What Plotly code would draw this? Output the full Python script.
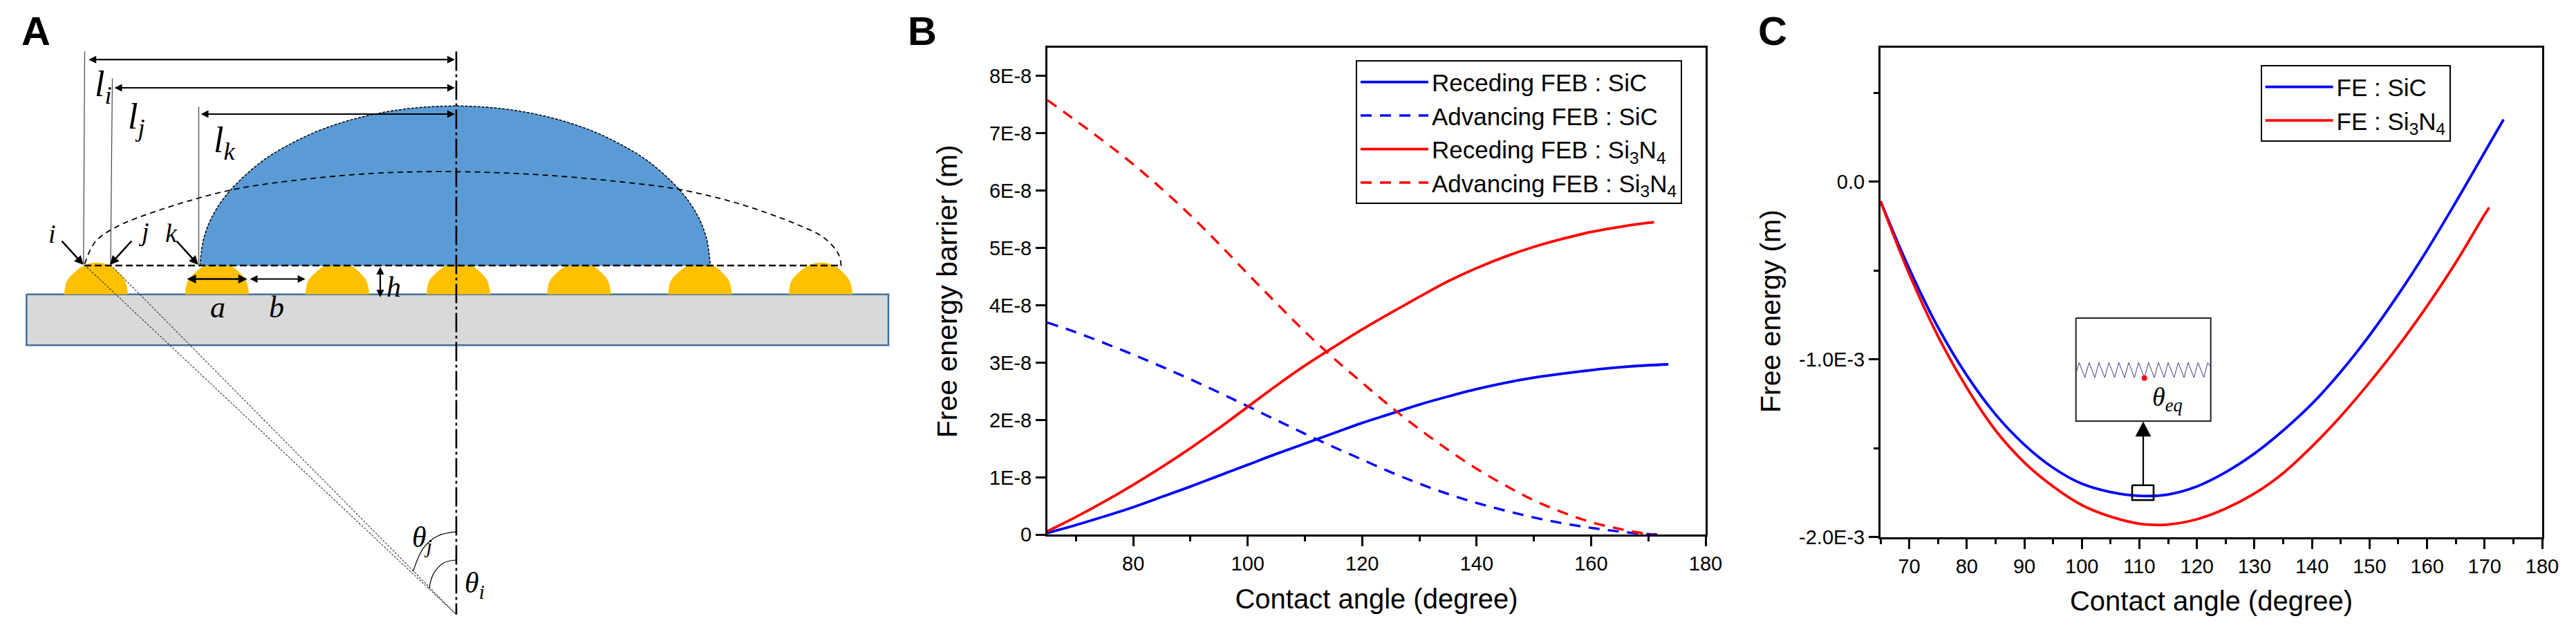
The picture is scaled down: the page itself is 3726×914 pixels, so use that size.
import plotly.graph_objects as go

W, H = 3726, 914
# ---------- Panel B data (free energy barrier, unit 1E-8 m)
b_rs_x = [65,70,75,80,85,90,95,100,105,110,115,120,125,130,135,140,145,150,155,160,165,170,173.5]
b_rs_y = [.03,.17,.32,.48,.66,.84,1.03,1.22,1.41,1.59,1.77,1.95,2.11,2.27,2.41,2.54,2.65,2.74,2.81,2.87,2.92,2.955,2.97]
b_as_x = [65,70,75,80,85,90,95,100,105,110,115,120,125,130,135,140,145,150,155,160,165,170,173]
b_as_y = [3.70,3.53,3.34,3.14,2.93,2.71,2.48,2.24,2.00,1.76,1.53,1.31,1.09,.89,.71,.555,.42,.30,.20,.12,.055,.01,0]
b_rn_x = [65,70,75,80,85,90,95,100,105,110,115,120,125,130,135,140,145,150,155,160,165,170,171]
b_rn_y = [.06,.31,.58,.87,1.18,1.51,1.86,2.23,2.60,2.95,3.27,3.58,3.87,4.15,4.42,4.65,4.85,5.02,5.16,5.28,5.37,5.44,5.45]
b_an_x = [65,70,75,80,85,90,95,100,105,110,115,120,125,130,135,140,145,150,155,160,165,170,171]
b_an_y = [7.58,7.22,6.85,6.46,6.03,5.57,5.07,4.55,4.04,3.54,3.08,2.65,2.23,1.84,1.48,1.15,.86,.60,.39,.22,.10,.01,0]
b_xticks = [80,100,120,140,160,180]
b_xminor = [70,90,110,130,150,170]
b_yticks = [0,1,2,3,4,5,6,7,8]
b_ylabels = ["0","1E-8","2E-8","3E-8","4E-8","5E-8","6E-8","7E-8","8E-8"]

# ---------- Panel C data (free energy, unit 1E-3 m)
c_s_x = [65,70,75,80,85,90,95,100,105,110,115,120,125,130,135,140,145,150,155,160,165,170,173.3]
c_s_y = [-.11,-.49,-.82,-1.09,-1.31,-1.48,-1.61,-1.70,-1.747,-1.768,-1.76,-1.715,-1.635,-1.53,-1.40,-1.25,-1.07,-.865,-.635,-.385,-.115,.165,.35]
c_n_x = [65,70,75,80,85,90,95,100,105,110,113,115,120,125,130,135,140,145,150,155,160,165,170,170.8]
c_n_y = [-.11,-.52,-.87,-1.16,-1.40,-1.58,-1.715,-1.82,-1.885,-1.925,-1.932,-1.93,-1.90,-1.84,-1.755,-1.64,-1.49,-1.32,-1.13,-.925,-.70,-.455,-.185,-.145]
c_xticks = [70,80,90,100,110,120,130,140,150,160,170,180]
c_xminor = [65,75,85,95,105,115,125,135,145,155,165,175]
c_yticks = [-2,-1,0]
c_ylabels = ["-2.0E-3","-1.0E-3","0.0"]
c_yminor = [-1.5,-.5,.5]

# ---------- Schematic geometry (picture positions, panel A and inset of panel C)
bump_lefts = [93,268,442,617,791.5,966.5,1141]
bump_dx = [0,3.7,13.7,28.7,47,65,79,88,92]
bump_y = [425.7,406.7,395,384,380,384,395,406.7,425.7]
drop_x = [289.2,295,309.2,333.3,379.2,422.5,460,502.5,542.5,580,613.3,658.3,703.3,736.6,774,814,856.6,894,937.4,983.3,1007.4,1021.6,1027.4]
drop_y = [384.6,343.8,308.9,275.1,233.1,206.9,189.4,174.8,164.9,158.5,155,153.3,155,158.5,164.9,174.8,189.4,206.9,233.1,275.1,308.9,343.8,384.6]
flat_x = [122.5,137.5,166.7,233,333,416.7,541.7,662.5,791.7,916.7,983,1066.7,1150,1191.7,1212.5,1216.7]
flat_y = [381.7,350,329,303,275,262,250.6,248.3,253.5,265,274,294,323.4,343.8,367,384.6]
sub_x = [38.3,1285,1285,38.3,38.3]
sub_y = [425.7,425.7,499.3,499.3,425.7]
arc_j_x = [660,633.3,612.5,597.5]
arc_j_y = [769.2,775,792.6,826.3]
arc_i_x = [660,641.7,626.7,620.8]
arc_i_y = [810,814,830.4,850.8]
zig_x = [3003.3,3007.3,3015.7,3021.7,3030,3036,3044.3,3050.3,3058.7,3064.7,3073,3079,3087.3,3093.3,3101.7,3107.7,3116,3122,3130.3,3136,3144.7,3150.7,3159,3165,3173.3,3179.3,3187.7,3193.3,3196.7]
zig_y = [538,524.3,546,524.3,546,524.3,546,524.3,546,524.3,546,524.3,546,524.3,546,524.3,546,524.3,546,524.3,546,524.3,546,524.3,546,524.3,546,524.3,530]
inset_x = [3002.7,3197.7,3197.7,3002.7,3002.7]
inset_y = [460,460,609,609,460]
zoombox_x = [3084,3115,3115,3084,3084]
zoombox_y = [701.7,701.7,723.3,723.3,701.7]
head_x = [3089,3111,3100,3089]
head_y = [631,631,610,631]

SANS = "Liberation Sans"
SERIF = "Liberation Serif"
BLUE, RED = "#0000ff", "#ff0000"
SOLID_W, DASH_W = 3.8, 3.4
DASH = "16px,12px"

fig = go.Figure()

def curve(x, y, color, dash, name, legend, xa, ya, width):
    fig.add_trace(go.Scatter(x=x, y=y, mode="lines", name=name, legend=legend, xaxis=xa, yaxis=ya,
                             line=dict(color=color, dash=dash, width=width, shape="spline", smoothing=1.0),
                             hoverinfo="skip"))

SI3N4 = "Si<sub>3</sub>N<sub>4</sub>"
curve(b_rs_x, b_rs_y, BLUE, "solid", "Receding FEB : SiC", "legend", "x", "y", SOLID_W)
curve(b_as_x, b_as_y, BLUE, DASH, "Advancing FEB : SiC", "legend", "x", "y", DASH_W)
curve(b_rn_x, b_rn_y, RED, "solid", "Receding FEB : " + SI3N4, "legend", "x", "y", SOLID_W)
curve(b_an_x, b_an_y, RED, DASH, "Advancing FEB : " + SI3N4, "legend", "x", "y", DASH_W)
curve(c_s_x, c_s_y, BLUE, "solid", "FE : SiC", "legend2", "x2", "y2", SOLID_W)
curve(c_n_x, c_n_y, RED, "solid", "FE : " + SI3N4, "legend2", "x2", "y2", SOLID_W)

def draw(x, y, color="black", width=1.0, dash="solid", fill=None, spline=False):
    fig.add_trace(go.Scatter(x=x, y=y, mode="lines", xaxis="x3", yaxis="y3", showlegend=False, hoverinfo="skip",
                             line=dict(color=color, width=width, dash=dash, shape="spline" if spline else "linear"),
                             fill="toself" if fill else None, fillcolor=fill))

# substrate, bumps, drop
draw(sub_x, sub_y, color="#41719C", width=2.5, fill="#D9D9D9")
for left in bump_lefts:
    draw([left + d for d in bump_dx], bump_y, color="#FFC000", width=0.5, fill="#FFC000", spline=True)
draw(drop_x, drop_y, color="black", width=1.5, dash="4px,2px", fill="#5B9BD5", spline=True)
draw(flat_x, flat_y, color="black", width=1.8, dash="8px,6px", spline=True)
draw([122, 1216.7], [384, 384], color="black", width=2.6, dash="10px,5px")
# leaders, radial lines, centre line, arcs
draw([122.5, 120.8], [74.6, 381.7], color="#444444", width=1.2)
draw([162.5, 160], [113.6, 381.7], color="#444444", width=1.2)
draw([287.5, 287.5], [154.4, 381.7], color="#444444", width=1.2)
draw([122, 660], [383, 888.7], color="#333333", width=1.1, dash="3px,2px")
draw([160, 660], [383, 888.7], color="#333333", width=1.1, dash="3px,2px")
draw([660, 660], [74.6, 888.7], color="black", width=2.6, dash="28px,5px,4px,5px")
draw(arc_j_x, arc_j_y, width=1.2, spline=True)
draw(arc_i_x, arc_i_y, width=1.2, spline=True)
# inset of panel C
draw(inset_x, inset_y, color="#222222", width=2, fill="white")
draw(zig_x, zig_y, color="#3C3C8C", width=1)
fig.add_trace(go.Scatter(x=[3101.7], y=[546.7], mode="markers", xaxis="x3", yaxis="y3", showlegend=False,
                         hoverinfo="skip", marker=dict(color=RED, size=8)))
draw([3100, 3100], [631, 701.7], width=2.2)
draw(head_x, head_y, width=0.5, fill="black")
draw(zoombox_x, zoombox_y, width=2.6)

ann = []
def label(text, x, y, size, family=SERIF):
    ann.append(dict(text=text, x=x, y=y, xref="x3", yref="y3", showarrow=False, xanchor="center", yanchor="middle",
                    font=dict(family=family, size=size, color="black")))

def arrow(x0, y0, x1, y1, width=2.2, both=False, size=1.0):
    ann.append(dict(text="", x=x1, y=y1, ax=x0, ay=y0, xref="x3", yref="y3", axref="x3", ayref="y3",
                    showarrow=True, arrowhead=2, arrowwidth=width, arrowsize=size, arrowcolor="black",
                    arrowside="end+start" if both else "end", startarrowhead=2, startarrowsize=size))

label("<b>A</b>", 52, 44, 58, SANS)
label("<b>B</b>", 1334, 44, 58, SANS)
label("<b>C</b>", 2564, 44, 58, SANS)
label("<i>l<sub>i</sub></i>", 149, 125, 52)
label("<i>l<sub>j</sub></i>", 197, 172, 52)
label("<i>l<sub>k</sub></i>", 324, 206, 52)
label("<i>i</i>", 75, 338, 38)
label("<i>j</i>", 208, 335, 38)
label("<i>k</i>", 248, 337, 38)
label("<i>a</i>", 315, 444, 44)
label("<i>b</i>", 400, 444, 44)
label("<i>h</i>", 569, 415, 42)
label("<i>θ<sub>j</sub></i>", 610, 780, 42)
label("<i>θ<sub>i</sub></i>", 686, 846, 42)
label("<i>θ<sub>eq</sub></i>", 3135, 577, 38)
arrow(126.7, 86.2, 658, 86.2, both=True)
arrow(164, 127, 658, 127, both=True)
arrow(289, 165, 658, 165, both=True)
arrow(88, 347, 120.7, 383, width=2.6)
arrow(191.7, 347, 159, 383, width=2.6)
arrow(254, 347, 286.7, 383, width=2.6)
arrow(269, 403.5, 357.7, 403.5, width=2.6, both=True)
arrow(360, 403.5, 441.7, 403.5, width=2.2, both=True)
arrow(550, 384.6, 550, 430, width=2.2, both=True)
ann.append(dict(text="Free energy (m)", x=2561, y=450, xref="x3", yref="y3", showarrow=False, textangle=-90,
                xanchor="center", yanchor="middle", font=dict(family=SANS, size=41, color="black")))

def common():
    return dict(showgrid=False, zeroline=False, showline=True, mirror=True, linecolor="black", linewidth=3,
                ticks="outside", ticklen=14, tickwidth=3, tickcolor="black",
                tickfont=dict(family=SANS, size=29, color="black"))

def xdom(a, b):
    return [a / W, b / W]

def ydom(top, bottom):
    return [1 - bottom / H, 1 - top / H]

minor_x = lambda v: dict(ticks="outside", ticklen=7, tickwidth=3, tickcolor="black", tickmode="array", tickvals=v)

fig.update_layout(
    width=W, height=H, autosize=False, paper_bgcolor="white", plot_bgcolor="rgba(0,0,0,0)",
    margin=dict(l=0, r=0, t=0, b=0, autoexpand=False),
    xaxis=dict(domain=xdom(1515, 2467), range=[65, 180], tickmode="array", tickvals=b_xticks,
               minor=minor_x(b_xminor), anchor="y",
               title=dict(text="Contact angle (degree)", font=dict(family=SANS, size=40, color="black"), standoff=22), **common()),
    yaxis=dict(domain=ydom(69.3, 773.3), range=[0, 8.49], tickmode="array", tickvals=b_yticks, ticktext=b_ylabels, anchor="x",
               title=dict(text="Free energy barrier (m)", font=dict(family=SANS, size=41, color="black"), standoff=34), **common()),
    xaxis2=dict(domain=xdom(2720, 3677), range=[65, 180], tickmode="array", tickvals=c_xticks,
                minor=minor_x(c_xminor), anchor="y2",
                title=dict(text="Contact angle (degree)", font=dict(family=SANS, size=40, color="black"), standoff=22), **common()),
    yaxis2=dict(domain=ydom(69.3, 776.7), range=[-2, 0.7525], tickmode="array", tickvals=c_yticks, ticktext=c_ylabels,
                minor=dict(ticks="outside", ticklen=7, tickwidth=3, tickcolor="black", tickmode="array", tickvals=c_yminor),
                anchor="x2", **common()),
    xaxis3=dict(domain=[0, 1], range=[0, W], visible=False, anchor="y3", fixedrange=True),
    yaxis3=dict(domain=[0, 1], range=[H, 0], visible=False, anchor="x3", fixedrange=True),
    legend=dict(x=1961 / W, y=1 - 87.3 / H, xanchor="left", yanchor="top", bgcolor="white", bordercolor="black",
                borderwidth=2, font=dict(family=SANS, size=35, color="black"), itemwidth=98, traceorder="normal"),
    legend2=dict(x=3269.6 / W, y=1 - 94.4 / H, xanchor="left", yanchor="top", bgcolor="white", bordercolor="black",
                 borderwidth=2, font=dict(family=SANS, size=35, color="black"), itemwidth=98, traceorder="normal"),
    annotations=ann, showlegend=True,
)

fig.write_html("out.html", config={"displayModeBar": False}, post_script="document.body.style.margin='0';")
